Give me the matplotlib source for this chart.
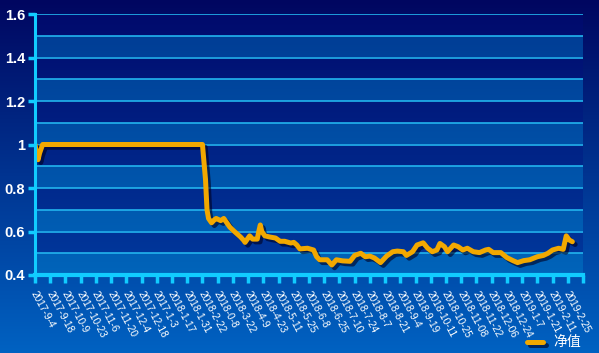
import numpy as np
import matplotlib
matplotlib.use("Agg")
import matplotlib.pyplot as plt
import matplotlib.patheffects as pe
from matplotlib.colors import to_rgb
from matplotlib.transforms import ScaledTranslation

plt.rcParams['font.family'] = ['Liberation Sans', 'DejaVu Sans', 'Noto Sans CJK SC']

# tick labels (as shown in the reference)
date_labels = ["2017-9-4", "2017-9-18", "2017-10-9", "2017-10-23", "2017-11-6",
               "2017-11-20", "2017-12-4", "2017-12-18", "2017-1-3", "2018-1-17",
               "2018-1-31", "2018-2-22", "2018-0-8", "2018-3-22", "2018-4-9",
               "2018-4-23", "2018-5-11", "2018-5-25", "2018-6-8", "2018-6-25",
               "2018-7-10", "2018-7-24", "2018-8-7", "2018-8-21", "2018-9-4",
               "2018-9-19", "2018-10-11", "2018-10-25", "2018-11-08", "2018-11-22",
               "2018-12-06", "2018-12-24", "2019-1-7", "2019-1-21", "2019-2-11",
               "2019-2-25"]
days_per_label = 10
n_days = 360

# net value series: trading-day index and value
day_idx = [0, 1, 2, 3, 5, 110, 112, 113, 114, 116, 118, 119, 122, 124, 125, 128,
           131, 135, 137, 138, 140, 141, 143, 146, 147, 148, 149, 151, 154, 158,
           161, 164, 168, 170, 172, 174, 179, 183, 185, 187, 192, 195, 198, 202,
           207, 210, 214, 217, 220, 223, 227, 231, 235, 238, 242, 244, 248, 251,
           255, 258, 261, 264, 266, 269, 271, 275, 278, 281, 284, 288, 292, 296,
           298, 301, 306, 310, 314, 317, 321, 325, 330, 334, 337, 340, 344, 347,
           349, 351, 353]
net_value = [1.00, 0.96, 0.93, 0.96, 1.00, 1.00, 0.84, 0.70, 0.66, 0.64, 0.655,
             0.66, 0.65, 0.66, 0.65, 0.62, 0.60, 0.575, 0.56, 0.55, 0.57, 0.58,
             0.565, 0.565, 0.60, 0.63, 0.60, 0.58, 0.575, 0.57, 0.555, 0.555,
             0.547, 0.55, 0.538, 0.52, 0.523, 0.515, 0.484, 0.47, 0.47, 0.446,
             0.47, 0.465, 0.463, 0.49, 0.50, 0.484, 0.487, 0.478, 0.457, 0.487,
             0.507, 0.51, 0.507, 0.49, 0.507, 0.538, 0.548, 0.523, 0.507, 0.515,
             0.545, 0.53, 0.507, 0.538, 0.53, 0.515, 0.523, 0.507, 0.503, 0.515,
             0.518, 0.503, 0.503, 0.48, 0.466, 0.457, 0.466, 0.47, 0.484, 0.49,
             0.50, 0.515, 0.523, 0.518, 0.58, 0.561, 0.553]
series_name = "净值"

y_min, y_max = 0.4, 1.6

W, H = 599, 353
fig = plt.figure(figsize=(W / 100, H / 100), dpi=100)

# figure background gradient
bg = fig.add_axes([0, 0, 1, 1], zorder=-10)
top = np.array(to_rgb("#000660"))
bot = np.array(to_rgb("#0062c2"))
t = np.linspace(0, 1, 300)[:, None, None]
grad = top * (1 - t) + bot * t
grad = np.repeat(grad, 2, axis=1)
bg.imshow(grad, aspect='auto', extent=[0, 1, 0, 1])
bg.axis('off')

ax = fig.add_axes([35 / W, 1 - 275 / H, (583 - 35) / W, (275 - 14) / H])
ax.set_xlim(0, n_days)
ax.set_ylim(y_min, y_max)

# banded plot background
rows = 600
yy = np.linspace(y_max, y_min, rows)
frac = (y_max - yy) / (y_max - y_min)
light_top, light_bot = np.array(to_rgb("#003a92")), np.array(to_rgb("#0064ba"))
dark_top, dark_bot = np.array(to_rgb("#000a6c")), np.array(to_rgb("#003a9e"))
band = np.floor((yy - y_min) / 0.1 + 1e-9).astype(int) % 2  # 1 -> dark
img = np.zeros((rows, 2, 3))
for i in range(rows):
    f = frac[i]
    if band[i] == 1:
        c = dark_top * (1 - f) + dark_bot * f
    else:
        c = light_top * (1 - f) + light_bot * f
    img[i, :, :] = c
ax.imshow(img, aspect='auto', extent=[0, n_days, y_min, y_max], zorder=0,
          interpolation='nearest')

# gridlines
for gv in np.arange(0.5, 1.61, 0.1):
    ax.axhline(gv, color="#22b4ee", lw=1.2, zorder=1)

# line
ax.plot(day_idx, net_value, color="#f2a800", lw=3.6, zorder=3,
        solid_joinstyle='round', solid_capstyle='round',
        path_effects=[pe.SimpleLineShadow(offset=(2, -2), shadow_color='#000020', alpha=0.6),
                      pe.Normal()])

# axes styling
for s in ['top', 'right']:
    ax.spines[s].set_visible(False)
ax.spines['left'].set_color("#11ccff")
ax.spines['left'].set_linewidth(2.2)
ax.spines['bottom'].set_color("#11ccff")
ax.spines['bottom'].set_linewidth(3)
ax.spines['left'].set_zorder(4)
ax.spines['bottom'].set_zorder(4)

yt = [0.4, 0.6, 0.8, 1.0, 1.2, 1.4, 1.6]
ax.set_yticks(yt)
ax.set_yticklabels(["0.4", "0.6", "0.8", "1", "1.2", "1.4", "1.6"])
ax.tick_params(axis='y', colors="#11ccff", length=5, width=2.5, direction='out',
               pad=2, labelcolor='white', labelsize=10.5)
for lab in ax.get_yticklabels():
    lab.set_fontweight('bold')

xt = np.arange(0, n_days + 1, days_per_label)
ax.set_xticks(xt)
ax.set_xticklabels(date_labels + [""])
ax.tick_params(axis='x', colors="#11ccff", length=6, width=2.5, direction='out',
               pad=4, labelcolor='white', labelsize=7.3)
shift = ScaledTranslation(3 / 100, 0, fig.dpi_scale_trans)
for lab in ax.get_xticklabels():
    lab.set_rotation(-62)
    lab.set_ha('left')
    lab.set_va('top')
    lab.set_rotation_mode('anchor')
    lab.set_transform(lab.get_transform() + shift)

# legend
fig.lines.append(plt.Line2D([527 / W, 543 / W], [1 - 342 / H, 1 - 342 / H],
                            transform=fig.transFigure, color="#f2a800", lw=3.6,
                            solid_capstyle='round',
                            path_effects=[pe.SimpleLineShadow(offset=(2, -2), shadow_color='#000020', alpha=0.6),
                                          pe.Normal()]))
fig.text(553 / W, 1 - 342 / H, series_name, color='white', fontsize=10,
         family=['Noto Sans CJK SC', 'DejaVu Sans'], va='center', ha='left')

fig.savefig("out.png", dpi=100)
